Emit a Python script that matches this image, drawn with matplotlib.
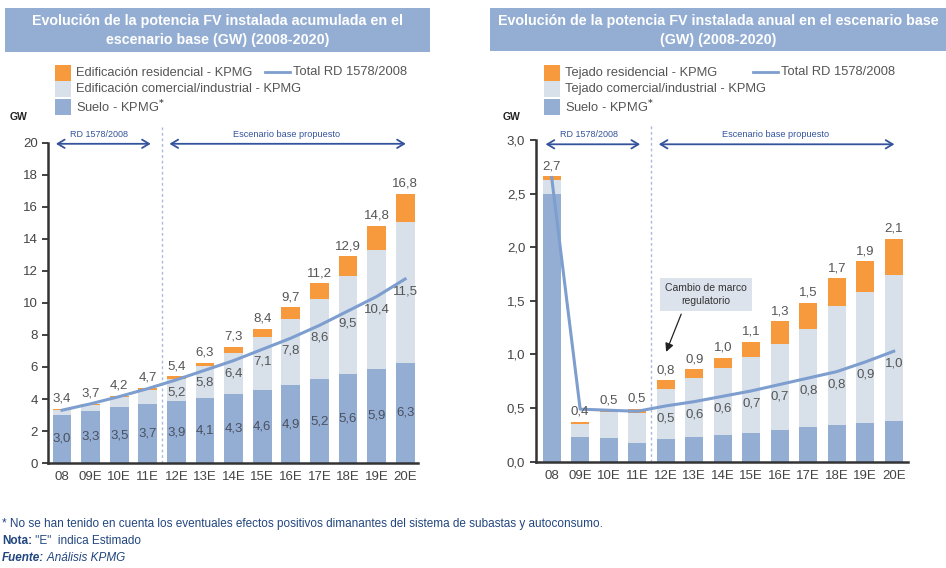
import numpy as np
import matplotlib.pyplot as plt
from matplotlib.patches import Rectangle
from matplotlib.lines import Line2D

plt.rcParams['font.family'] = ['Liberation Sans', 'DejaVu Sans']

years = ['08', '09E', '10E', '11E', '12E', '13E', '14E', '15E', '16E', '17E', '18E', '19E', '20E']

# potencia acumulada (GW)
suelo_acum = [3.02, 3.28, 3.50, 3.68, 3.86, 4.08, 4.34, 4.58, 4.86, 5.24, 5.56, 5.90, 6.28]
comercial_acum = [0.28, 0.34, 0.60, 0.87, 1.41, 1.96, 2.56, 3.30, 4.12, 4.99, 6.14, 7.40, 8.80]
residencial_acum = [0.08, 0.08, 0.08, 0.14, 0.15, 0.23, 0.36, 0.52, 0.74, 0.99, 1.22, 1.52, 1.76]
rd_acum = [3.30, 3.70, 4.15, 4.65, 5.20, 5.80, 6.40, 7.10, 7.80, 8.60, 9.50, 10.40, 11.50]

# potencia anual (GW)
suelo_anual = [2.50, 0.23, 0.22, 0.17, 0.21, 0.23, 0.25, 0.27, 0.30, 0.32, 0.34, 0.36, 0.38]
comercial_anual = [0.13, 0.12, 0.24, 0.28, 0.47, 0.55, 0.62, 0.71, 0.80, 0.92, 1.11, 1.22, 1.36]
residencial_anual = [0.03, 0.02, 0.02, 0.04, 0.08, 0.08, 0.10, 0.14, 0.21, 0.24, 0.26, 0.29, 0.34]
rd_anual = [2.65, 0.49, 0.48, 0.47, 0.52, 0.56, 0.61, 0.66, 0.72, 0.78, 0.84, 0.93, 1.03]

C_SUELO = '#94aed3'
C_COM = '#d8e0ea'
C_RES = '#f7993d'
C_LINE = '#7d9ece'
C_TXT = '#555555'
C_NAVY = '#34539c'
C_FOOT = '#22467f'
FS = 9.5

W, H = 946, 568
fig = plt.figure(figsize=(W / 100, H / 100), dpi=100)


def fx(x):
    return x / W


def fy(y):
    return 1 - y / H


def fmt(v):
    return f'{v:.1f}'.replace('.', ',')


def panel(ax, suelo, com, res, rd, width, suelo_labels):
    x = np.arange(len(years))
    suelo = np.array(suelo)
    com = np.array(com)
    res = np.array(res)
    ax.bar(x, suelo, width, color=C_SUELO, zorder=2)
    ax.bar(x, com, width, bottom=suelo, color=C_COM, zorder=2)
    ax.bar(x, res, width, bottom=suelo + com, color=C_RES, zorder=2)
    total = suelo + com + res
    ax.plot(x, rd, color=C_LINE, lw=2.2, zorder=3)

    for xi, t in zip(x, total):
        ax.annotate(fmt(t), (xi, t), xytext=(0, 3), textcoords='offset points',
                    ha='center', va='bottom', fontsize=FS, color=C_TXT)
    for xi in x[4:]:
        ax.annotate(fmt(rd[xi]), (xi, rd[xi]), xytext=(0, -9), textcoords='offset points',
                    ha='center', va='center', fontsize=FS, color=C_TXT, zorder=4)
    if suelo_labels:
        for xi, s in zip(x, suelo):
            ax.text(xi, s / 2, fmt(s), ha='center', va='center', fontsize=FS, color='#4a5060', zorder=4)

    ax.set_xticks(x)
    ax.set_xticklabels(years)
    for s in ['top', 'right']:
        ax.spines[s].set_visible(False)
    for s in ['left', 'bottom']:
        ax.spines[s].set_color('#333333')
        ax.spines[s].set_linewidth(1.8)
    ax.tick_params(axis='x', length=0, pad=6, labelsize=FS, labelcolor='#444444')
    ax.tick_params(axis='y', length=4, width=1.3, color='#333333', labelsize=FS, labelcolor='#444444')


def periodos(ax, top, txt_y):
    ax.axvline(3.5, ymin=0, ymax=1.05, color='#a9bbdc', ls=(0, (2, 2)), lw=1, clip_on=False, zorder=1)
    kw = dict(arrowstyle='<->,head_length=0.5,head_width=0.3', color=C_NAVY, lw=1.3)
    ax.annotate('', xy=(3.2, top), xytext=(-0.31, top), arrowprops=kw, annotation_clip=False)
    ax.annotate('', xy=(12.12, top), xytext=(3.66, top), arrowprops=kw, annotation_clip=False)
    ax.text(1.3, txt_y, 'RD 1578/2008', ha='center', va='center', fontsize=6.5, color=C_NAVY)
    ax.text(7.85, txt_y, 'Escenario base propuesto', ha='center', va='center', fontsize=6.6, color=C_NAVY)


# panel izquierdo: acumulada
ax1 = fig.add_axes([fx(48), fy(463), fx(370), 320 / H])
panel(ax1, suelo_acum, comercial_acum, residencial_acum, rd_acum, 0.66, True)
ax1.set_xlim(-0.49, 12.45)
ax1.set_ylim(0, 20)
ax1.set_yticks(range(0, 21, 2))
periodos(ax1, 19.95, 20.55)

# panel derecho: anual
ax2 = fig.add_axes([fx(535.7), fy(461.7), fx(372.3), 321.7 / H])
panel(ax2, suelo_anual, comercial_anual, residencial_anual, rd_anual, 0.64, False)
ax2.set_xlim(-0.56, 12.5)
ax2.set_ylim(0, 3.0)
yt = np.arange(0, 3.01, 0.5)
ax2.set_yticks(yt)
ax2.set_yticklabels([fmt(v) for v in yt])
periodos(ax2, 2.96, 3.05)

ax2.text(5.41, 1.56, 'Cambio de marco\nregulatorio', ha='center', va='center', fontsize=7.5,
         color='#333333', linespacing=1.4,
         bbox=dict(boxstyle='square,pad=0.5', facecolor='#dde3ec', edgecolor='none'), zorder=5)
ax2.annotate('', xy=(3.98, 1.0), xytext=(4.58, 1.40),
             arrowprops=dict(arrowstyle='-|>,head_length=0.5,head_width=0.25', color='#222222', lw=0.9))

# cajas de titulo
for x0, x1, y0, y1, lines in [
        (5, 430, 8, 52, ['Evolución de la potencia FV instalada acumulada en el',
                         'escenario base (GW) (2008-2020)']),
        (490, 946, 8, 51, ['Evolución de la potencia FV instalada anual en el escenario base',
                           '(GW) (2008-2020)'])]:
    fig.add_artist(Rectangle((fx(x0), fy(y1)), fx(x1 - x0), (y1 - y0) / H,
                             transform=fig.transFigure, facecolor=C_SUELO, edgecolor='none'))
    cx = (x0 + x1) / 2
    fig.text(fx(cx), fy(21), lines[0], ha='center', va='center', fontsize=10.3, fontweight='bold', color='white')
    fig.text(fx(cx), fy(40), lines[1], ha='center', va='center', fontsize=10.3, fontweight='bold', color='white')

# leyendas
def leyenda(sq_x, labels, line_x):
    rows = [73, 89, 107]
    colors = [C_RES, C_COM, C_SUELO]
    for y, c, lab in zip(rows, colors, labels):
        fig.add_artist(Rectangle((fx(sq_x), fy(y + 8)), fx(16), 16 / H,
                                 transform=fig.transFigure, facecolor=c, edgecolor='none'))
        fig.text(fx(sq_x + 21), fy(y), lab, ha='left', va='center', fontsize=9.3, color=C_TXT)
    fig.add_artist(Line2D([fx(line_x), fx(line_x + 25)], [fy(72), fy(72)],
                          transform=fig.transFigure, color=C_LINE, lw=2))
    fig.text(fx(line_x + 28), fy(72), 'Total RD 1578/2008', ha='left', va='center', fontsize=9.3, color=C_TXT)


leyenda(55, ['Edificación residencial - KPMG', 'Edificación comercial/industrial - KPMG',
             'Suelo - KPMG$^{\\mathbf{*}}$'], 265)
leyenda(544, ['Tejado residencial - KPMG', 'Tejado comercial/industrial - KPMG',
              'Suelo - KPMG$^{\\mathbf{*}}$'], 753)

fig.text(fx(18), fy(117), 'GW', ha='center', va='center', fontsize=7.5, fontweight='bold', color='#222222')
fig.text(fx(511), fy(117), 'GW', ha='center', va='center', fontsize=7.5, fontweight='bold', color='#222222')

# notas al pie
renderer = fig.canvas.get_renderer()
fig.text(fx(2), fy(524), '* No se han tenido en cuenta los eventuales efectos positivos dimanantes '
         'del sistema de subastas y autoconsumo.', ha='left', va='center', fontsize=8.5, color=C_FOOT)
for y, a, b, style in [(541, 'Nota:', ' "E"  indica Estimado', 'normal'),
                       (558, 'Fuente:', ' Análisis KPMG', 'italic')]:
    t = fig.text(fx(2), fy(y), a, ha='left', va='center', fontsize=8.5, fontweight='bold',
                 style=style, color=C_FOOT)
    x_end = t.get_window_extent(renderer).x1
    fig.text(x_end / W, fy(y), b, ha='left', va='center', fontsize=8.5, style=style, color=C_FOOT)

fig.savefig('out.png', dpi=100)
